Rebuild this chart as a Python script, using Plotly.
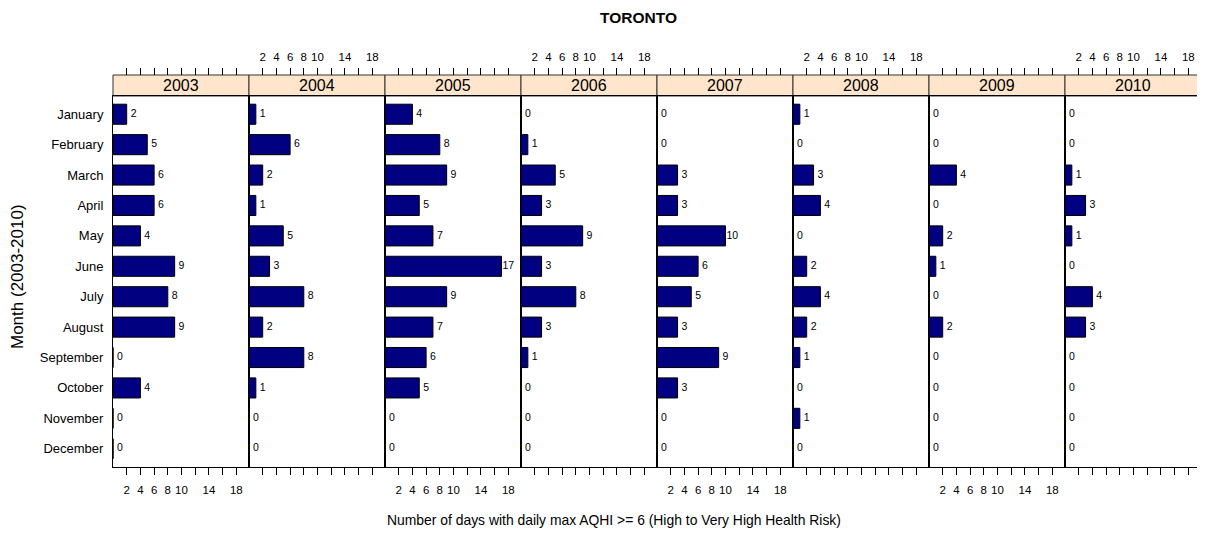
import plotly.graph_objects as go

months = ["January", "February", "March", "April", "May", "June", "July",
          "August", "September", "October", "November", "December"]
years = ["2003", "2004", "2005", "2006", "2007", "2008", "2009", "2010"]

v2003 = [2, 5, 6, 6, 4, 9, 8, 9, 0, 4, 0, 0]
v2004 = [1, 6, 2, 1, 5, 3, 8, 2, 8, 1, 0, 0]
v2005 = [4, 8, 9, 5, 7, 17, 9, 7, 6, 5, 0, 0]
v2006 = [0, 1, 5, 3, 9, 3, 8, 3, 1, 0, 0, 0]
v2007 = [0, 0, 3, 3, 10, 6, 5, 3, 9, 3, 0, 0]
v2008 = [1, 0, 3, 4, 0, 2, 4, 2, 1, 0, 1, 0]
v2009 = [0, 0, 4, 0, 2, 1, 0, 2, 0, 0, 0, 0]
v2010 = [0, 0, 1, 3, 1, 0, 4, 3, 0, 0, 0, 0]
series = [v2003, v2004, v2005, v2006, v2007, v2008, v2009, v2010]

tick_vals = [2, 4, 6, 8, 10, 12, 14, 16, 18]
tick_text = ["2", "4", "6", "8", "10", "", "14", "", "18"]

# page has an 8px body margin; work in target-page pixels and shift by 8
OFF = 8
W, H = 1205 - OFF, 535 - OFF
PL, PR, PT, PB = 113, 1201, 75, 467          # target page px: panels+strip box
ML = PL - OFF
MT = PT - OFF
MR = W - (PR - OFF)
MB = H - (PB - OFF)
plot_w = W - ML - MR
plot_h = H - MT - MB
panel_top = (467 - 96) / plot_h
xr = [0, 19.85]
n = len(years)
FONT = "Liberation Sans, Arial, sans-serif"


def px_x(x):
    return (x - PL) / plot_w


def px_y(y):
    return (PB - y) / plot_h


fig = go.Figure()
layout = {}
for i, (yr, vals) in enumerate(zip(years, series)):
    k = i + 1
    xa = "x" if k == 1 else f"x{k}"
    ya = "y" if k == 1 else f"y{k}"
    fig.add_trace(go.Bar(
        x=vals, y=months, orientation="h", xaxis=xa, yaxis=ya,
        width=0.66, marker=dict(color="#000080", line=dict(color="black", width=1)),
        showlegend=False, hoverinfo="x+y"))
    fig.add_trace(go.Scatter(
        x=[v + 1 for v in vals], y=months, mode="text",
        text=[str(v) for v in vals], textposition="middle center",
        textfont=dict(size=10.5, color="black", family=FONT),
        xaxis=xa, yaxis=ya, showlegend=False, hoverinfo="skip", cliponaxis=False))
    # invisible trace so the top axis is drawn
    fig.add_trace(go.Scatter(
        x=vals, y=months, mode="markers", marker=dict(opacity=0),
        xaxis=f"x{k + n}", yaxis=ya, showlegend=False, hoverinfo="skip"))
    d0, d1 = i / n, (i + 1) / n
    bottom_labels = (i % 2 == 0)
    layout[f"xaxis{k}" if k > 1 else "xaxis"] = dict(
        domain=[d0, d1], range=xr, anchor=ya, showgrid=False, zeroline=False,
        showline=True, linecolor="black", linewidth=1, mirror=True,
        ticks="outside", ticklen=7, tickcolor="black", tickwidth=1,
        tickvals=tick_vals, ticktext=tick_text, showticklabels=bottom_labels,
        ticklabelstandoff=5,
        tickfont=dict(size=11.5, color="black", family=FONT), fixedrange=True)
    layout[f"yaxis{k}" if k > 1 else "yaxis"] = dict(
        domain=[0, panel_top], anchor=xa, type="category",
        categoryorder="array", categoryarray=months,
        range=[11.6, -0.6], showgrid=False, zeroline=False,
        showline=True, linecolor="black", linewidth=1, mirror=True,
        ticks="", showticklabels=(k == 1), ticklabelstandoff=6,
        tickfont=dict(size=13, color="black", family=FONT), fixedrange=True)
    layout[f"xaxis{k + n}"] = dict(
        domain=[d0, d1], range=xr, overlaying=xa, side="top", anchor="free",
        position=1.0, showgrid=False, zeroline=False, showline=False,
        ticks="outside", ticklen=7, tickcolor="black", tickwidth=1,
        tickvals=tick_vals, ticktext=tick_text, showticklabels=not bottom_labels,
        ticklabelstandoff=2,
        tickfont=dict(size=11.5, color="black", family=FONT), fixedrange=True)

shapes = []
annotations = []
for i, yr in enumerate(years):
    d0, d1 = i / n, (i + 1) / n
    shapes.append(dict(type="rect", xref="paper", yref="paper",
                       x0=d0, x1=d1, y0=panel_top, y1=1.0,
                       fillcolor="#FFE5CC", line=dict(color="#333333", width=1), layer="below"))
    annotations.append(dict(text=yr, xref="paper", yref="paper",
                            x=(d0 + d1) / 2, y=(panel_top + 1) / 2,
                            showarrow=False, xanchor="center", yanchor="middle",
                            font=dict(size=16, color="black", family=FONT)))

annotations.append(dict(text="<b>TORONTO</b>", xref="paper", yref="paper",
                        x=px_x(638), y=px_y(18), showarrow=False,
                        xanchor="center", yanchor="middle",
                        font=dict(size=15.5, color="black", family=FONT)))
annotations.append(dict(text="Number of days with daily max AQHI >= 6 (High to Very High Health Risk)",
                        xref="paper", yref="paper", x=px_x(613.5), y=px_y(520),
                        showarrow=False, xanchor="center", yanchor="middle",
                        font=dict(size=13.9, color="black", family=FONT)))
annotations.append(dict(text="Month (2003-2010)", xref="paper", yref="paper",
                        x=px_x(17), y=px_y(277),
                        showarrow=False, textangle=-90, xanchor="center", yanchor="middle",
                        font=dict(size=17, color="black", family=FONT)))

fig.update_layout(
    width=W, height=H, margin=dict(l=ML, r=MR, t=MT, b=MB, pad=0),
    paper_bgcolor="white", plot_bgcolor="white",
    shapes=shapes, annotations=annotations, bargap=0.34,
    font=dict(family=FONT, color="black"), **layout)

fig.write_html("out.html")
